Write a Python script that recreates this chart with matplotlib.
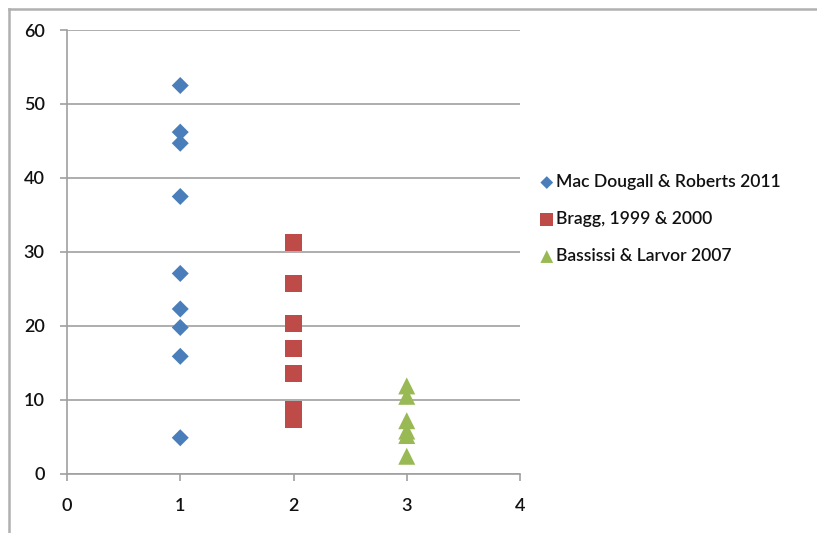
import matplotlib.pyplot as plt
from matplotlib.lines import Line2D

# data
mac_x = [1, 1, 1, 1, 1, 1, 1, 1, 1]
mac_y = [52.5, 46.2, 44.7, 37.5, 27.1, 22.3, 19.8, 15.9, 4.9]

bragg_x = [2, 2, 2, 2, 2, 2, 2]
bragg_y = [31.3, 25.7, 20.4, 16.9, 13.6, 8.7, 7.4]

bass_x = [3, 3, 3, 3, 3, 3]
bass_y = [11.9, 10.5, 7.2, 5.8, 5.2, 2.4]

labels = ['Mac Dougall & Roberts 2011', 'Bragg, 1999 & 2000', 'Bassissi & Larvor 2007']
colors = ['#4a7ebb', '#be4b48', '#98b954']

plt.rcParams['font.family'] = ['Lato', 'DejaVu Sans']

fig = plt.figure(figsize=(8.17, 5.33), dpi=100)
ax = fig.add_axes([67 / 817, 1 - 474 / 533, (520 - 67) / 817, (474 - 30) / 533])

ax.scatter(mac_x, mac_y, marker='D', s=75, color=colors[0], edgecolors='none', label=labels[0], zorder=3)
ax.scatter(bragg_x, bragg_y, marker='s', s=150, color=colors[1], edgecolors='none', label=labels[1], zorder=3)
ax.scatter(bass_x, bass_y, marker='^', s=150, color=colors[2], edgecolors='none', label=labels[2], zorder=3)

ax.set_xlim(0, 4)
ax.set_ylim(0, 60)
ax.set_xticks(range(0, 5))
ax.set_yticks(range(0, 61, 10))
ax.yaxis.grid(True, color='#a0a0a0', linewidth=1.2)
ax.set_axisbelow(True)
for s in ['top', 'right']:
    ax.spines[s].set_visible(False)
for s in ['left', 'bottom']:
    ax.spines[s].set_color('#a0a0a0')
    ax.spines[s].set_linewidth(1.2)
ax.tick_params(axis='both', colors='#a0a0a0', labelcolor='#111111', labelsize=13, length=5, width=1.2)
ax.tick_params(axis='x', pad=12)
ax.tick_params(axis='y', pad=11)
for t in ax.get_xticklabels() + ax.get_yticklabels():
    t.set_fontweight('semibold')

leg = ax.legend(loc='center left', bbox_to_anchor=(1.005, 0.574), frameon=False,
                prop={'size': 12.6, 'weight': 'semibold'},
                handletextpad=0.0, labelspacing=1.2, handlelength=1.0, markerscale=0.75)
for t in leg.get_texts():
    t.set_color('#111111')

# outer chart border (top and left only visible)
fig.add_artist(Line2D([9 / 817, 1], [1 - 9 / 533, 1 - 9 / 533], color='#b0b0b0', linewidth=1.8))
fig.add_artist(Line2D([9 / 817, 9 / 817], [0, 1 - 9 / 533], color='#b0b0b0', linewidth=1.8))

fig.savefig('out.png', dpi=100)
